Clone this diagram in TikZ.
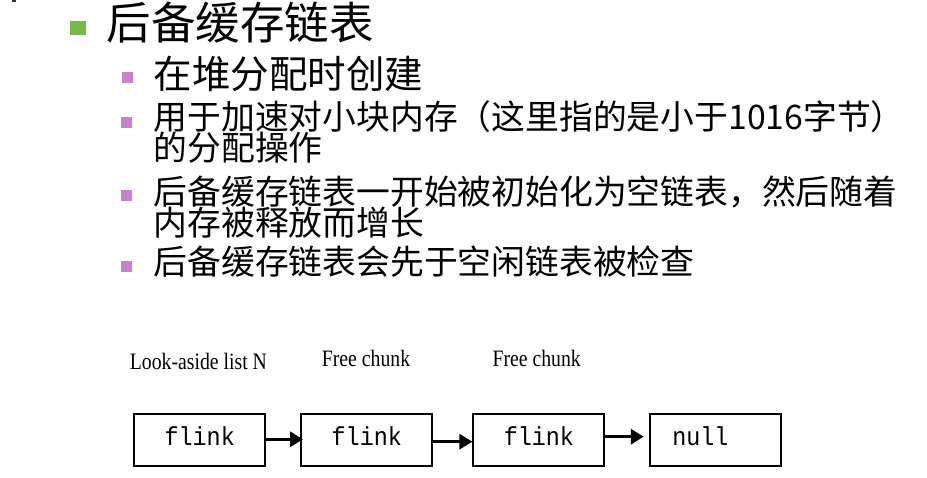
\documentclass[tikz,border=0pt]{standalone}
\usepackage{fontspec}
\newfontfamily\cjkfont{Noto Sans CJK SC}
\newfontfamily\serifl{Liberation Serif}
\newfontfamily\monol{Liberation Mono}
\usetikzlibrary{arrows.meta}
\definecolor{bulletgreen}{HTML}{77B94A}
\definecolor{bulletpink}{HTML}{C882CD}
\tikzset{
  cjkline/.style={anchor=base west, inner sep=0pt},
  titlefont/.style={font=\cjkfont\fontsize{44.5}{50}\selectfont},
  firstfont/.style={font=\cjkfont\fontsize{38.5}{44}\selectfont},
  bodyfont/.style={font=\cjkfont\fontsize{33.8}{38}\selectfont},
  greenbullet/.style={fill=bulletgreen, draw=none, minimum width=16pt, minimum height=14pt, inner sep=0pt},
  pinkbullet/.style={fill=bulletpink, draw=none, minimum width=11pt, minimum height=11pt, inner sep=0pt},
  chunkbox/.style={draw=black, line width=2pt, minimum width=131pt, minimum height=52pt, inner sep=0pt,
    font=\monol\fontsize{26}{30}\selectfont, text height=16.4pt, text depth=7pt},
  chunklabel/.style={anchor=base, inner sep=0pt, font=\serifl\fontsize{23.5}{28}\selectfont},
  linkarrow/.style={draw=black, -{Triangle[length=13pt,width=15pt]}},
}
\begin{document}
\begin{tikzpicture}[x=1pt,y=-1pt]
\useasboundingbox (0,0) rectangle (927,477);
\fill[white] (0,0) rectangle (927,477);
\fill[black!80] (12,0) rectangle (16,2);

% bullets
\node[greenbullet] (g1) at (78,27.8) {};
\node[pinkbullet] (p1) at (127,77.5) {};
\node[pinkbullet] (p2) at (126.7,122.2) {};
\node[pinkbullet] (p3) at (126.7,195.5) {};
\node[pinkbullet] (p4) at (126.2,266.7) {};

% text
\node[cjkline, titlefont] (title) at (106.5,39) {后备缓存链表};
\node[cjkline, firstfont] (l1) at (153.5,88.3) {在堆分配时创建};
\node[cjkline, bodyfont] (l2a) at (153.5,129.2) {用于加速对小块内存（这里指的是小于1016字节）};
\node[cjkline, bodyfont] (l2b) at (153.5,160) {的分配操作};
\node[cjkline, bodyfont] (l3a) at (153.5,204.2) {后备缓存链表一开始被初始化为空链表，然后随着};
\node[cjkline, bodyfont] (l3b) at (153.5,235) {内存被释放而增长};
\node[cjkline, bodyfont] (l4) at (153.5,274) {后备缓存链表会先于空闲链表被检查};

% diagram labels
\node[chunklabel] (lab1) at (198.4,369.3) {\scalebox{0.84}[1]{Look-aside list N}};
\node[chunklabel] (lab2) at (366,366) {\scalebox{0.84}[1]{Free chunk}};
\node[chunklabel] (lab3) at (536.7,366.7) {\scalebox{0.84}[1]{Free chunk}};

% boxes
\node[chunkbox] (b1) at (199.7,440.3) {\scalebox{0.9}[1]{flink}};
\node[chunkbox] (b2) at (366.8,440.3) {\scalebox{0.9}[1]{flink}};
\node[chunkbox] (b3) at (538.9,440.3) {\scalebox{0.9}[1]{flink}};
\node[chunkbox] (b4) at (715.3,440.3) {\makebox[86pt][l]{\scalebox{0.9}[1]{null}}};

% arrows
\draw[linkarrow, line width=3.5pt, shorten >=-2.7pt] ([yshift=1pt]b1.east) -- ([yshift=1pt]b2.west);
\draw[linkarrow, line width=2.8pt] ([yshift=-1.4pt]b2.east) -- ([yshift=-1.4pt]b3.west);
\draw[linkarrow, line width=3.5pt, shorten >=5pt] ([yshift=3.6pt]b3.east) -- ([yshift=3.6pt]b4.west);
\end{tikzpicture}
\end{document}
